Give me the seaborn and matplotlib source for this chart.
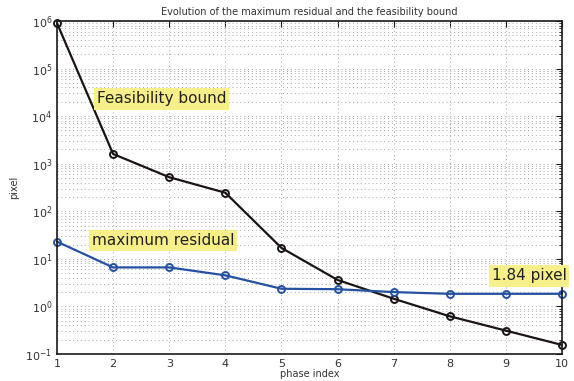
import matplotlib
matplotlib.use("Agg")
import matplotlib.pyplot as plt
import seaborn as sns
import pandas as pd
import numpy as np
from matplotlib.ticker import LogLocator, FixedLocator, NullFormatter

phase = [1, 2, 3, 4, 5, 6, 7, 8, 9, 10]
feasibility_bound = [9.0e5, 1600, 520, 245, 17, 3.6, 1.45, 0.62, 0.31, 0.155]
maximum_residual = [23, 6.6, 6.6, 4.5, 2.35, 2.3, 2.0, 1.84, 1.84, 1.84]

df = pd.DataFrame({
    "phase": phase * 2,
    "value": feasibility_bound + maximum_residual,
    "series": ["Feasibility bound"] * len(phase) + ["maximum residual"] * len(phase),
})

sns.set_style("white")
fig = plt.figure(figsize=(5.74, 3.81), dpi=100)
ax = fig.add_axes([0.0993, 0.0709, 0.8797, 0.8741])

palette = {"Feasibility bound": "#1c1414", "maximum residual": "#2452a0"}
sns.lineplot(data=df, x="phase", y="value", hue="series", palette=palette,
             marker="o", markersize=5, markerfacecolor="none", markeredgewidth=1.4,
             linewidth=1.6, legend=False, ax=ax)
for line in ax.lines:
    line.set_markeredgecolor(line.get_color())
    line.set_markerfacecolor("none")
    line.set_clip_on(False)

ax.set_yscale("log")
ax.set_xlim(1, 10)
ax.set_ylim(1e-1, 1e6)
ax.set_xticks(phase)
ax.yaxis.set_major_locator(LogLocator(base=10, numticks=20))
ax.yaxis.set_minor_locator(LogLocator(base=10, subs=np.arange(2, 10), numticks=100))
ax.yaxis.set_minor_formatter(NullFormatter())

ax.grid(True, which="major", axis="both", linestyle=(0, (1, 3)), color="#a8a8a8", linewidth=0.7)
ax.grid(True, which="minor", axis="y", linestyle=(0, (1, 3)), color="#a8a8a8", linewidth=0.7)

for s in ax.spines.values():
    s.set_color("#1a1a1a")
    s.set_linewidth(1.2)

ax.tick_params(axis="both", which="both", direction="in", top=True, right=True,
               labelsize=8, colors="#1a1a1a", labelcolor="#333333")
ax.tick_params(which="major", length=4)
ax.tick_params(which="minor", length=2)

ax.set_title("Evolution of the maximum residual and the feasibility bound",
             fontsize=7, color="#333333", pad=4)
ax.set_xlabel("phase index", fontsize=7, color="#333333", labelpad=0)
ax.set_ylabel("pixel", fontsize=7, color="#333333", labelpad=4)

box = dict(boxstyle="square,pad=0.2", facecolor="#f7f08a", edgecolor="none")
ax.text(1.71, 10 ** 4.36, "Feasibility bound", fontsize=11, color="#222222",
        bbox=box, va="center", ha="left")
ax.text(1.62, 10 ** 1.39, "maximum residual", fontsize=11, color="#222222",
        bbox=box, va="center", ha="left", clip_on=False)
ax.text(10.08, 10 ** 0.64, "1.84 pixel", fontsize=11, color="#222222",
        bbox=box, va="center", ha="right", clip_on=False)

fig.savefig("out.png", dpi=100)
